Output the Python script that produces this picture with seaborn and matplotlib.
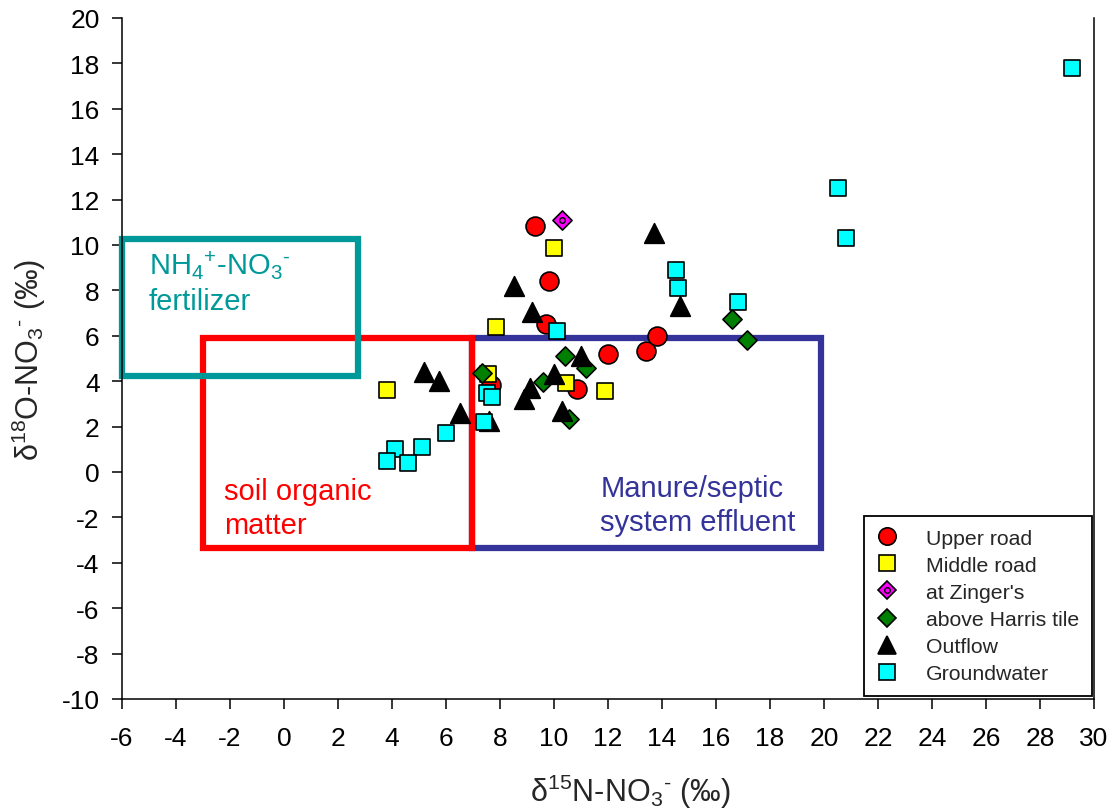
import numpy as np
import pandas as pd
import matplotlib
matplotlib.use("Agg")
import matplotlib.pyplot as plt
from matplotlib.lines import Line2D
from matplotlib.patches import Rectangle
from matplotlib.legend_handler import HandlerTuple
import seaborn as sns

# --- nitrate isotope measurements (d15N, d18O in permil) ---
series_names = ["Upper road", "Middle road", "at Zinger's",
                "above Harris tile", "Outflow", "Groundwater"]

upper_d15n = [9.3, 9.8, 9.7, 7.65, 10.85, 12.0, 13.4, 13.8]
upper_d18o = [10.85, 8.4, 6.5, 3.85, 3.65, 5.2, 5.35, 6.0]

middle_d15n = [10.0, 7.85, 3.8, 7.55, 10.45, 11.9]
middle_d18o = [9.85, 6.4, 3.6, 4.3, 3.9, 3.55]

zinger_d15n = [10.3]
zinger_d18o = [11.1]

harris_d15n = [7.35, 10.4, 11.2, 9.6, 10.55, 16.6, 17.15]
harris_d18o = [4.35, 5.1, 4.6, 3.95, 2.35, 6.75, 5.8]

outflow_d15n = [8.5, 9.2, 5.2, 5.75, 6.5, 7.6, 11.0, 10.0, 9.1, 8.9, 10.3, 13.7, 14.65]
outflow_d18o = [8.2, 7.05, 4.4, 4.0, 2.6, 2.25, 5.1, 4.3, 3.7, 3.2, 2.7, 10.55, 7.3]

ground_d15n = [10.1, 7.5, 7.7, 7.4, 6.0, 5.1, 4.1, 3.8, 4.6, 14.5, 14.6, 16.8, 20.5, 20.8, 29.2]
ground_d18o = [6.2, 3.5, 3.3, 2.2, 1.7, 1.1, 1.0, 0.5, 0.4, 8.9, 8.1, 7.5, 12.5, 10.3, 17.8]

# --- typical source ranges (d15N min/max, d18O min/max) ---
source_names = ["Manure/septic\nsystem effluent", "soil organic\nmatter",
                r"NH$_4$$^{+}$-NO$_3$$^{\text{-}}$" + "\nfertilizer"]
source_n_min = [6.95, -3.0, -6.0]
source_n_max = [19.9, 6.95, 2.75]
source_o_min = [-3.37, -3.37, 4.25]
source_o_max = [5.9, 5.9, 10.25]

x_ticks = list(range(-6, 31, 2))
y_ticks = list(range(-10, 21, 2))

frames = []
for name, xs, ys in zip(series_names,
                        [upper_d15n, middle_d15n, zinger_d15n, harris_d15n, outflow_d15n, ground_d15n],
                        [upper_d18o, middle_d18o, zinger_d18o, harris_d18o, outflow_d18o, ground_d18o]):
    frames.append(pd.DataFrame({"d15N": xs, "d18O": ys, "site": name}))
df = pd.concat(frames, ignore_index=True)

sns.set_style("ticks")
plt.rcParams["font.family"] = ["Liberation Sans", "DejaVu Sans"]
plt.rcParams["mathtext.fontset"] = "custom"
plt.rcParams["mathtext.rm"] = "Liberation Sans"
plt.rcParams["mathtext.it"] = "Liberation Sans:italic"
plt.rcParams["mathtext.bf"] = "Liberation Sans:bold"
plt.rcParams["mathtext.default"] = "regular"
plt.rcParams["axes.unicode_minus"] = False

fig = plt.figure(figsize=(11.13, 8.12), dpi=100)
ax = fig.add_axes([122 / 1113, 1 - 700 / 812, 972 / 1113, 681 / 812])

# source range boxes and their labels
box_colors = ["#333399", "#FF0000", "#009999"]
label_pos = [(11.72, -1.05), (-2.22, -1.17), (-5.0, 8.7)]
for name, x0, x1, y0, y1, c, (tx, ty) in zip(source_names, source_n_min, source_n_max,
                                             source_o_min, source_o_max, box_colors, label_pos):
    ax.add_patch(Rectangle((x0, y0), x1 - x0, y1 - y0, fill=False, edgecolor=c,
                           linewidth=4.5, joinstyle="miter", zorder=1, clip_on=False))
    first, second = name.split("\n")
    ax.text(tx, ty, first, color=c, fontsize=21, va="baseline", ha="left", zorder=2)
    ax.text(tx, ty - 1.52, second, color=c, fontsize=21, va="baseline", ha="left", zorder=2)

styles = {
    "Upper road": dict(marker="o", s=185, color="#FF0000"),
    "Middle road": dict(marker="s", s=140, color="#FFFF00"),
    "at Zinger's": dict(marker="D", s=95, color="#FF00FF"),
    "above Harris tile": dict(marker="D", s=95, color="#008000"),
    "Outflow": dict(marker="^", s=200, color="#000000"),
    "Groundwater": dict(marker="s", s=140, color="#00FFFF"),
}
for i, name in enumerate(series_names):
    sub = df[df["site"] == name]
    st = styles[name]
    sns.scatterplot(data=sub, x="d15N", y="d18O", marker=st["marker"], s=st["s"],
                    color=st["color"], edgecolor="black", linewidth=1.2,
                    ax=ax, zorder=3 + i, legend=False)
    if name == "at Zinger's":
        sns.scatterplot(data=sub, x="d15N", y="d18O", marker="o", s=16,
                        color=st["color"], edgecolor="black", linewidth=1.0,
                        ax=ax, zorder=3 + i, legend=False)

ax.set_xlim(-6, 30)
ax.set_ylim(-10, 20)
ax.set_xticks(x_ticks)
ax.set_yticks(y_ticks)
ax.tick_params(axis="both", direction="out", length=7.2, width=1.1, labelsize=19,
               colors="black")
ax.tick_params(axis="x", pad=12)
ax.tick_params(axis="y", pad=9)
for side in ["left", "bottom", "right"]:
    ax.spines[side].set_color("black")
    ax.spines[side].set_linewidth(1.1)
ax.spines["top"].set_visible(False)

ax.set_xlabel(r"δ$^{15}$N-NO$_3$$^{\text{-}}$ (‰)", fontsize=22)
ax.set_ylabel(r"δ$^{18}$O-NO$_3$$^{\text{-}}$ (‰)", fontsize=22)
ax.xaxis.set_label_coords(0.523, -0.107)
ax.yaxis.set_label_coords(-0.076, 0.5)

# legend
handles = []
for name in series_names:
    st = styles[name]
    ms = {"o": 12.5, "s": 11, "D": 9, "^": 13}[st["marker"]]
    h = Line2D([], [], ls="none", marker=st["marker"], markersize=ms,
               markerfacecolor=st["color"], markeredgecolor="black", markeredgewidth=1.2)
    if name == "at Zinger's":
        dot = Line2D([], [], ls="none", marker="o", markersize=4,
                     markerfacecolor=st["color"], markeredgecolor="black", markeredgewidth=1.0)
        h = (h, dot)
    handles.append(h)

leg = ax.legend(handles, series_names, loc="lower right", bbox_to_anchor=(0.998, 0.004),
                fontsize=15.3, frameon=True, fancybox=False, framealpha=1,
                edgecolor="black", borderpad=0.62, handlelength=1.0, handletextpad=1.3,
                labelspacing=0.38, borderaxespad=0,
                handler_map={tuple: HandlerTuple(ndivide=1)})
leg.get_frame().set_linewidth(1.3)
leg.set_zorder(20)

fig.savefig("out.png", dpi=100)
